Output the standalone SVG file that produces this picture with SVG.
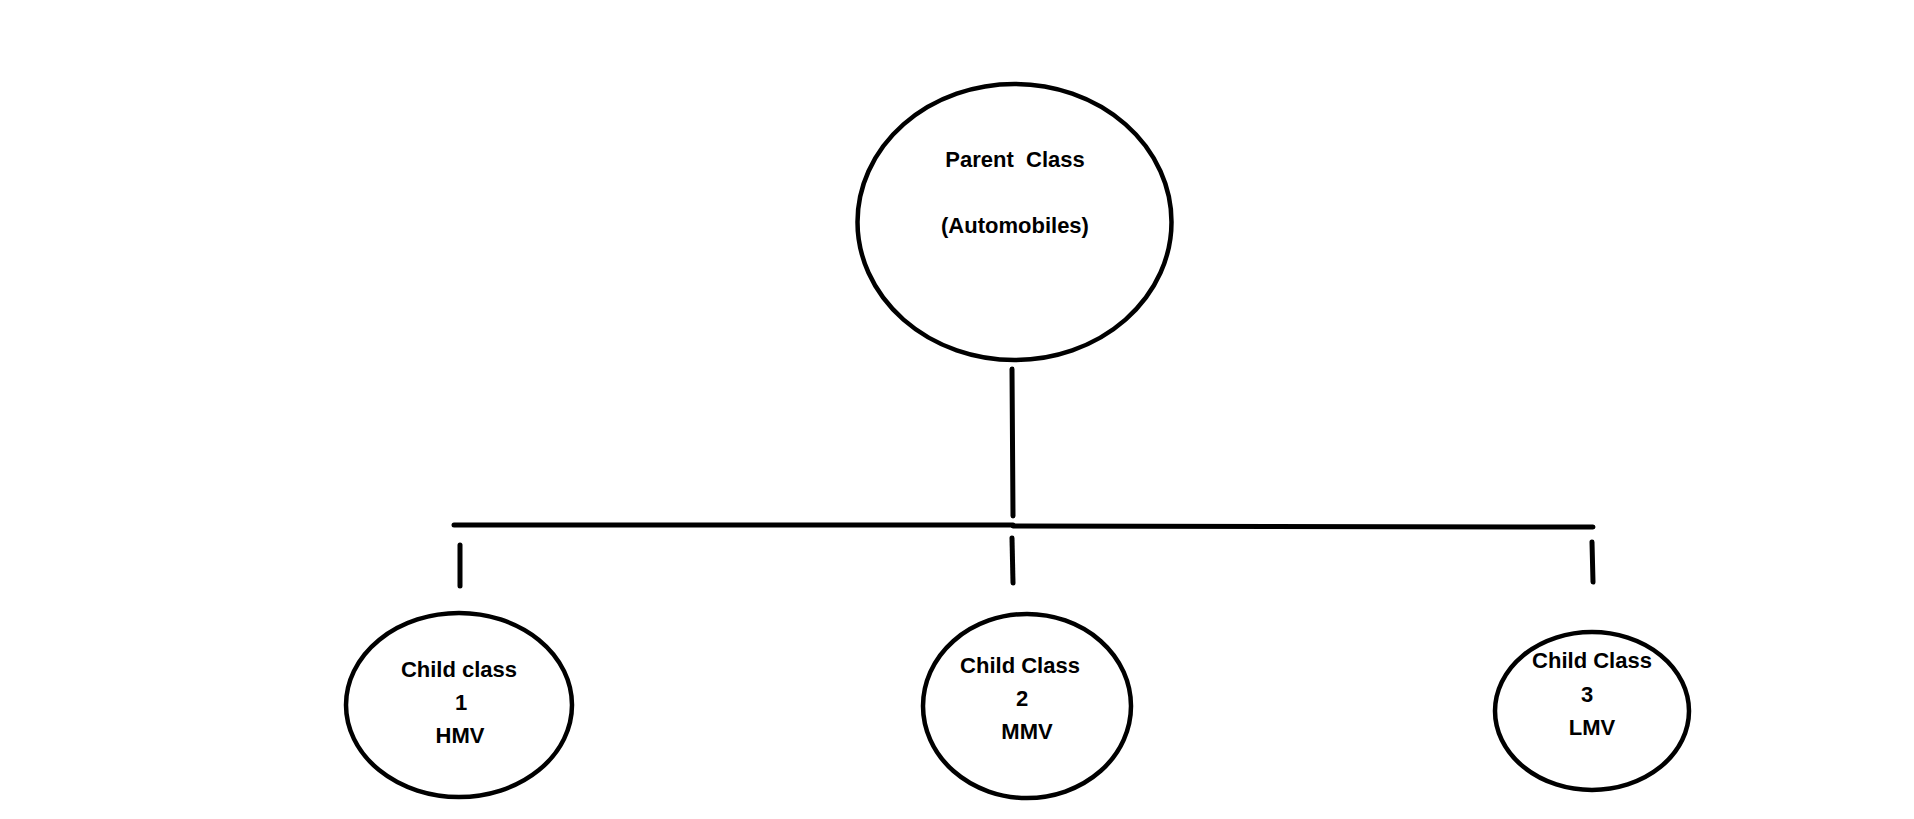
<svg xmlns="http://www.w3.org/2000/svg" width="1914" height="819" viewBox="0 0 1914 819">
<style>
.n{fill:#fff;stroke:#000;stroke-width:4.5}
.t{font-family:"Liberation Sans",Arial,sans-serif;font-weight:bold;font-size:22px;fill:#000;text-anchor:middle;white-space:pre}
.c{stroke:#000;stroke-width:5;stroke-linecap:round;fill:none}
</style>
<rect width="1914" height="819" fill="#fff"/>
<g id="connectors">
<line class="c" x1="1012" y1="369" x2="1013" y2="516"/>
<line class="c" x1="454" y1="525" x2="1013" y2="525"/>
<line class="c" x1="1013" y1="526" x2="1593" y2="527"/>
<line class="c" x1="460" y1="545" x2="460" y2="586"/>
<line class="c" x1="1012" y1="538" x2="1013" y2="583"/>
<line class="c" x1="1592" y1="542" x2="1593" y2="582"/>
</g>
<g id="parent">
<ellipse class="n" cx="1014.5" cy="222" rx="157" ry="138"/>
<text class="t" x="1015" y="167" xml:space="preserve">Parent  Class</text>
<text class="t" x="1015" y="233">(Automobiles)</text>
</g>
<g id="child1">
<ellipse class="n" cx="459" cy="705" rx="113" ry="92"/>
<text class="t" x="459" y="677">Child class</text>
<text class="t" x="461" y="710">1</text>
<text class="t" x="460" y="743">HMV</text>
</g>
<g id="child2">
<ellipse class="n" cx="1027" cy="706" rx="104" ry="92"/>
<text class="t" x="1020" y="673">Child Class</text>
<text class="t" x="1022" y="706">2</text>
<text class="t" x="1027" y="739">MMV</text>
</g>
<g id="child3">
<ellipse class="n" cx="1592" cy="711" rx="97" ry="79"/>
<text class="t" x="1592" y="668">Child Class</text>
<text class="t" x="1587" y="702">3</text>
<text class="t" x="1592" y="735">LMV</text>
</g>
</svg>
